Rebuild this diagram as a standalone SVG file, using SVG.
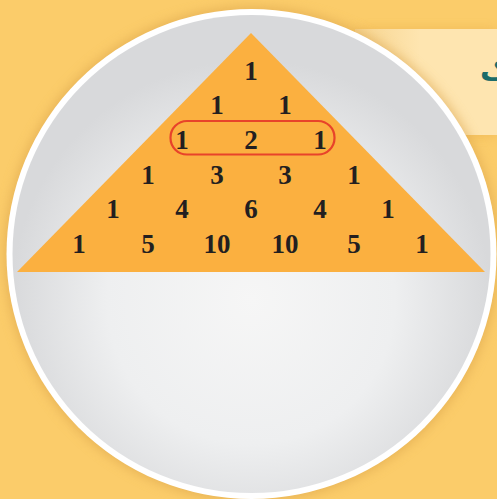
<svg xmlns="http://www.w3.org/2000/svg" width="497" height="499" viewBox="0 0 497 499">
<style>
.n{font-family:"Liberation Serif","Times New Roman",serif;font-weight:bold;font-size:27px;fill:#231f20;text-anchor:middle}
</style>
<defs>
<radialGradient id="disc" cx="251" cy="300" r="240" gradientUnits="userSpaceOnUse">
<stop offset="0" stop-color="#f6f6f6"/>
<stop offset="0.6" stop-color="#eeeff0"/>
<stop offset="1" stop-color="#d8d9db"/>
</radialGradient>
<linearGradient id="band" x1="355" y1="0" x2="420" y2="0" gradientUnits="userSpaceOnUse">
<stop offset="0" stop-color="#f7d590"/>
<stop offset="1" stop-color="#fee5b0"/>
</linearGradient>
<filter id="sh" x="-10%" y="-10%" width="120%" height="120%">
<feGaussianBlur stdDeviation="6"/>
</filter>
</defs>
<rect width="497" height="499" fill="#fbcc6a"/>
<rect x="358" y="29" width="139" height="107" fill="#e9b04e" filter="url(#sh)" opacity="0.6"/>
<rect x="355" y="29" width="142" height="106" fill="url(#band)"/>
<text x="480" y="80" font-family="'Noto Sans','DejaVu Sans',sans-serif" font-weight="bold" font-size="30" fill="#1c6c6a" text-anchor="start">ک</text>
<g id="disc-node">
<circle cx="251.5" cy="254" r="247" fill="#d9a24a" filter="url(#sh)" opacity="0.6"/>
<circle cx="251.5" cy="254" r="245" fill="#ffffff"/>
<circle cx="251.5" cy="254" r="239" fill="url(#disc)"/>
</g>
<g id="triangle">
<polygon points="251,33 485,272 17,272" fill="#fbb040"/>
</g>
<g id="numbers">
<text class="n" x="251" y="80">1</text>
<text class="n" x="217" y="114">1</text><text class="n" x="285" y="114">1</text>
<text class="n" x="182" y="149">1</text><text class="n" x="251" y="149">2</text><text class="n" x="320" y="149">1</text>
<text class="n" x="148" y="184">1</text><text class="n" x="217" y="184">3</text><text class="n" x="285" y="184">3</text><text class="n" x="354" y="184">1</text>
<text class="n" x="113" y="218">1</text><text class="n" x="182" y="218">4</text><text class="n" x="251" y="218">6</text><text class="n" x="320" y="218">4</text><text class="n" x="388" y="218">1</text>
<text class="n" x="79" y="253">1</text><text class="n" x="148" y="253">5</text><text class="n" x="217" y="253">10</text><text class="n" x="285" y="253">10</text><text class="n" x="354" y="253">5</text><text class="n" x="422" y="253">1</text>
</g>
<g id="highlight">
<rect x="170.5" y="121" width="164" height="33.5" rx="16.5" fill="none" stroke="#e8432a" stroke-width="2.2"/>
</g>
</svg>
